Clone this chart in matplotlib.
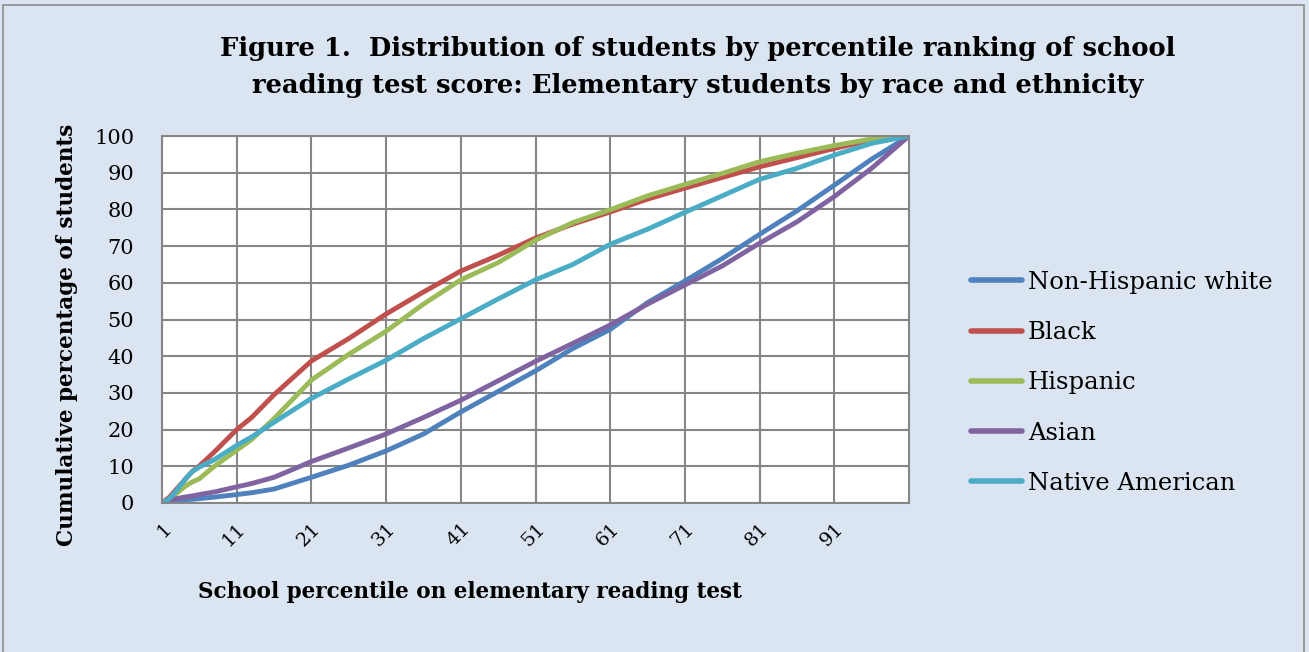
import matplotlib
matplotlib.use("Agg")
import matplotlib.pyplot as plt
from matplotlib.patches import Rectangle

# =========================
# Data
# =========================

percentile = [1, 2, 3, 4, 5, 6, 8, 11, 13, 16, 21, 26, 31, 36, 41, 46,
              51, 56, 61, 66, 71, 76, 81, 86, 91, 96, 101]

white = [0, 0.3, 0.7, 0.9, 1.0, 1.2, 1.6, 2.3, 2.8, 3.8, 7.0, 10.3, 14.2,
         18.8, 24.8, 30.4, 36.0, 42.1, 47.3, 54.6, 60.5, 66.6, 73.2, 79.6,
         86.6, 93.7, 100]
black = [0, 1.6, 3.9, 6.2, 8.5, 10.1, 13.9, 20.0, 23.3, 29.5, 38.7, 44.8,
         51.5, 57.5, 63.2, 67.5, 72.2, 76.0, 79.3, 82.8, 85.8, 88.7, 91.6,
         94.1, 96.6, 98.9, 100]
hispanic = [0, 1.0, 2.7, 4.4, 5.7, 6.6, 10.0, 14.4, 17.3, 23.0, 33.5, 40.5,
            46.8, 54.2, 60.8, 65.5, 71.6, 76.4, 79.9, 83.7, 86.8, 89.8, 93.0,
            95.3, 97.4, 99.2, 100]
asian = [0, 0.7, 1.2, 1.6, 1.9, 2.3, 3.0, 4.4, 5.3, 7.0, 11.3, 15.0, 18.8,
         23.3, 28.0, 33.3, 38.6, 43.5, 48.5, 54.2, 59.4, 64.6, 70.8, 76.6,
         83.5, 91.2, 100]
native = [0, 1.2, 3.5, 6.2, 8.5, 9.8, 11.8, 15.7, 18.0, 22.0, 28.5, 33.8,
          38.9, 44.8, 50.2, 55.6, 60.8, 65.0, 70.5, 74.6, 79.2, 83.7, 88.2,
          91.2, 94.8, 98.0, 100]

SERIES = [
    ("Non-Hispanic white", white, "#4F81BD"),
    ("Black", black, "#C0504D"),
    ("Hispanic", hispanic, "#9BBB59"),
    ("Asian", asian, "#8064A2"),
    ("Native American", native, "#4BACC6"),
]

xtick_pos = [1, 11, 21, 31, 41, 51, 61, 71, 81, 91]
xtick_labels = [str(v) for v in xtick_pos]

# =========================
# Figure
# =========================

W, H = 1309, 652
BG = "#DBE5F1"
GRID = "#868686"
FONT = "DejaVu Serif"

fig = plt.figure(figsize=(W / 100, H / 100), dpi=100)
fig.patch.set_facecolor(BG)

# outer chart border
fig.patches.append(Rectangle((3 / W, -0.05), 1301 / W, 1 - 5 / H + 0.05,
                             transform=fig.transFigure, fill=False,
                             edgecolor="#8C8C8C", linewidth=1.2))

ax = fig.add_axes([162 / W, 1 - 503 / H, 747 / W, 367 / H])
ax.set_facecolor("white")

for name, vals, color in SERIES:
    ax.plot(percentile, vals, color=color, linewidth=3.5, label=name,
            solid_capstyle="round")

ax.set_xlim(1, 101)
ax.set_ylim(0, 100)
ax.set_yticks(range(0, 101, 10))
ax.set_xticks(xtick_pos)
ax.set_xticklabels(xtick_labels, rotation=45, ha="right", va="top",
                   rotation_mode="anchor", fontfamily=FONT, fontsize=14)
for lab in ax.get_yticklabels():
    lab.set_fontfamily(FONT)
    lab.set_fontsize(15)

ax.grid(True, color=GRID, linewidth=1.5)
ax.set_axisbelow(True)
for sp in ax.spines.values():
    sp.set_color(GRID)
    sp.set_linewidth(1.5)
ax.tick_params(length=0)
ax.tick_params(axis="y", pad=20)
ax.tick_params(axis="x", pad=12)

# axis titles, placed like the original (not centred on the plot area)
fig.text(470 / W, 1 - 592 / H, "School percentile on elementary reading test",
         ha="center", va="center", fontfamily=FONT, fontweight="bold",
         fontsize=15.5)
fig.text(67 / W, 1 - 335 / H, "Cumulative percentage of students",
         ha="center", va="center", rotation=90, fontfamily=FONT,
         fontweight="bold", fontsize=15.5)

fig.text(698 / W, 1 - 67 / H,
         "Figure 1.  Distribution of students by percentile ranking of school\n"
         "reading test score: Elementary students by race and ethnicity",
         ha="center", va="center", fontfamily=FONT, fontweight="bold",
         fontsize=18.5, linespacing=1.6)

leg = fig.legend(loc="upper left", bbox_to_anchor=(949 / W, 1 - 249 / H),
                 frameon=False, prop={"family": FONT, "size": 17.5},
                 handlelength=2.1, handletextpad=0.25, labelspacing=1.12)
for line in leg.get_lines():
    line.set_linewidth(4)

fig.savefig("out.png", dpi=100, facecolor=BG)
